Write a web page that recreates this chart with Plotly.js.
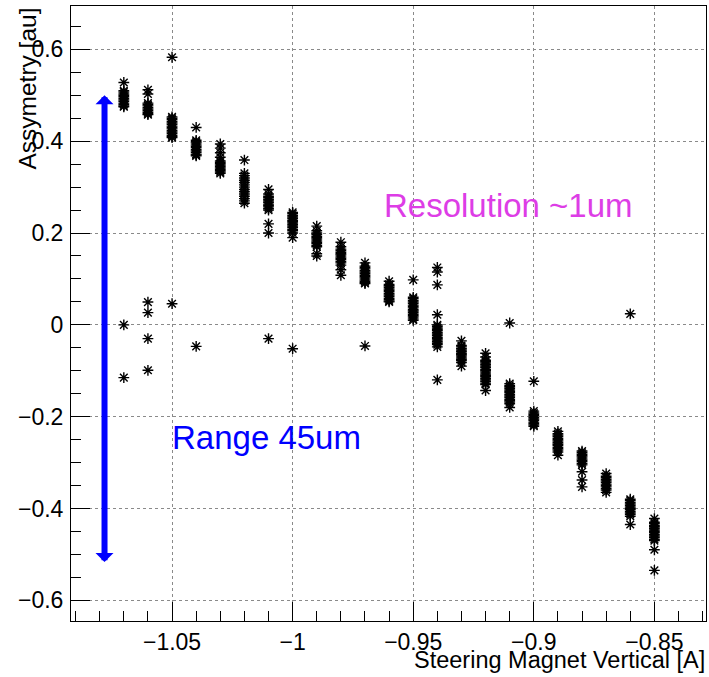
<!DOCTYPE html>
<html>
<head>
<meta charset="utf-8">
<script src="https://cdn.plot.ly/plotly-3.0.1.min.js"></script>
<style>html,body{margin:0;padding:0;background:#fff;}#chart{width:709px;height:677px;}</style>
</head>
<body>
<div id="chart"></div>
<script>
// Steering magnet current settings [A]
const currents = [-1.07, -1.06, -1.05, -1.04, -1.03, -1.02, -1.01, -1.00, -0.99, -0.98, -0.97, -0.96,
                  -0.95, -0.94, -0.93, -0.92, -0.91, -0.90, -0.89, -0.88, -0.87, -0.86, -0.85];

// Asymmetry readings [au] at each current
const asymmetry = [
  [0.528, 0.51, 0.507, 0.503, 0.5, 0.497, 0.493, 0.49, 0.487, 0.483, 0.48, 0.477, 0.475, 0.0, -0.115],
  [0.512, 0.503, 0.483, 0.48, 0.477, 0.473, 0.47, 0.467, 0.463, 0.46, 0.458, 0.0496, 0.0265, -0.03, -0.099],
  [0.583, 0.453, 0.45, 0.447, 0.443, 0.44, 0.437, 0.433, 0.43, 0.427, 0.423, 0.42, 0.417, 0.413, 0.41, 0.408, 0.046],
  [0.43, 0.402, 0.399, 0.396, 0.392, 0.389, 0.386, 0.382, 0.379, 0.376, 0.372, 0.37, 0.368, -0.047],
  [0.394, 0.385, 0.375, 0.365, 0.357, 0.354, 0.351, 0.348, 0.345, 0.342, 0.339, 0.336, 0.333, 0.33],
  [0.359, 0.33, 0.325, 0.32, 0.315, 0.31, 0.305, 0.3, 0.295, 0.29, 0.285, 0.28, 0.275, 0.27, 0.265],
  [0.295, 0.285, 0.28, 0.277, 0.273, 0.27, 0.267, 0.263, 0.26, 0.257, 0.253, 0.25, 0.22, 0.2, -0.03],
  [0.245, 0.242, 0.238, 0.235, 0.232, 0.228, 0.225, 0.222, 0.218, 0.215, 0.212, 0.208, 0.205, 0.2, 0.19, -0.052],
  [0.215, 0.205, 0.2, 0.197, 0.193, 0.19, 0.187, 0.183, 0.18, 0.177, 0.173, 0.17, 0.155, 0.15],
  [0.18, 0.17, 0.165, 0.162, 0.158, 0.155, 0.152, 0.148, 0.145, 0.142, 0.138, 0.135, 0.13, 0.12, 0.108],
  [0.135, 0.128, 0.125, 0.122, 0.118, 0.115, 0.112, 0.108, 0.105, 0.102, 0.098, 0.095, 0.092, 0.09, -0.046],
  [0.095, 0.088, 0.085, 0.082, 0.078, 0.075, 0.072, 0.068, 0.065, 0.062, 0.058, 0.055, 0.052, 0.05],
  [0.098, 0.06, 0.057, 0.053, 0.05, 0.047, 0.043, 0.04, 0.037, 0.033, 0.03, 0.027, 0.023, 0.02, 0.017, 0.013, 0.01],
  [0.125, 0.115, 0.087, 0.022, 0.0, -0.003, -0.007, -0.01, -0.013, -0.017, -0.02, -0.023, -0.027, -0.03, -0.033, -0.037, -0.04, -0.043, -0.048, -0.12],
  [-0.035, -0.045, -0.048, -0.052, -0.055, -0.058, -0.062, -0.065, -0.068, -0.072, -0.075, -0.078, -0.082, -0.09],
  [-0.062, -0.07, -0.077, -0.08, -0.083, -0.087, -0.09, -0.093, -0.097, -0.1, -0.103, -0.107, -0.11, -0.113, -0.117, -0.12, -0.123, -0.127, -0.13, -0.143],
  [0.004, -0.128, -0.132, -0.135, -0.138, -0.142, -0.145, -0.148, -0.152, -0.155, -0.158, -0.162, -0.165, -0.168, -0.172, -0.18],
  [-0.123, -0.188, -0.192, -0.195, -0.198, -0.202, -0.205, -0.208, -0.212, -0.215, -0.218, -0.221],
  [-0.232, -0.237, -0.24, -0.243, -0.247, -0.25, -0.253, -0.257, -0.26, -0.263, -0.267, -0.27, -0.273, -0.277, -0.284],
  [-0.275, -0.278, -0.282, -0.285, -0.288, -0.292, -0.295, -0.298, -0.302, -0.305, -0.32, -0.338, -0.353],
  [-0.324, -0.33, -0.333, -0.337, -0.34, -0.343, -0.347, -0.35, -0.353, -0.357, -0.36, -0.365],
  [0.024, -0.38, -0.383, -0.387, -0.39, -0.393, -0.397, -0.4, -0.403, -0.407, -0.41, -0.413, -0.417, -0.435],
  [-0.422, -0.43, -0.433, -0.437, -0.44, -0.443, -0.447, -0.45, -0.453, -0.457, -0.46, -0.463, -0.467, -0.47, -0.49, -0.535]
];

// Axis tick values
const xTicks = [-1.05, -1.00, -0.95, -0.90, -0.85];
const xTickText = ['\u22121.05', '\u22121', '\u22120.95', '\u22120.9', '\u22120.85'];
const yTicks = [-0.6, -0.4, -0.2, 0, 0.2, 0.4, 0.6];
const yTickText = ['\u22120.6', '\u22120.4', '\u22120.2', '0', '0.2', '0.4', '0.6'];

// Annotation texts
const xTitle = 'Steering Magnet Vertical [A]';
const yTitle = 'Assymetry [au]';
const resolutionText = 'Resolution ~1um';
const rangeText = 'Range 45um';
const arrowX = -1.078;
const arrowTop = 0.5;
const arrowBottom = -0.52;

const xs = [], ys = [];
currents.forEach((c, i) => asymmetry[i].forEach(v => { xs.push(c); ys.push(v); }));

const font = 'Liberation Sans, Arial, Helvetica, sans-serif';

const trace = {
  type: 'scatter', mode: 'markers', x: xs, y: ys,
  marker: { symbol: 'asterisk-open', size: 9, color: '#000', line: { color: '#000', width: 1.4 } },
  hoverinfo: 'skip'
};

const axisCommon = {
  showline: true, linecolor: '#000', linewidth: 1, mirror: true,
  ticks: 'inside', tickcolor: '#000', tickwidth: 1, ticklen: 19,
  showgrid: true, gridcolor: '#8a8a8a', gridwidth: 1, griddash: 'dot',
  zeroline: false,
  tickfont: { family: font, size: 23, color: '#000' }
};

const layout = {
  width: 709, height: 677,
  margin: { l: 71, r: 3, t: 5.5, b: 55.5, pad: 0 },
  paper_bgcolor: '#fff', plot_bgcolor: '#fff',
  showlegend: false,
  xaxis: Object.assign({}, axisCommon, {
    range: [-1.0919, -0.8286], tickmode: 'array', tickvals: xTicks, ticktext: xTickText,
    ticklabelstandoff: 0,
    minor: { ticks: 'inside', ticklen: 10, tickcolor: '#000', tickwidth: 1, dtick: 0.01, tick0: -1, showgrid: false }
  }),
  yaxis: Object.assign({}, axisCommon, {
    range: [-0.6452, 0.6946], tickmode: 'array', tickvals: yTicks, ticktext: yTickText,
    ticklabelstandoff: 2,
    minor: { ticks: 'inside', ticklen: 10, tickcolor: '#000', tickwidth: 1, dtick: 0.05, tick0: 0, showgrid: false }
  }),
  annotations: [
    { text: xTitle, xref: 'paper', yref: 'paper', x: 1.002, y: -0.088, xanchor: 'right', yanchor: 'bottom',
      showarrow: false, font: { family: font, size: 23.5, color: '#000' } },
    { text: yTitle, xref: 'paper', yref: 'paper', x: -0.07, y: 1, xanchor: 'center', yanchor: 'top',
      textangle: -90, showarrow: false, font: { family: font, size: 24.5, color: '#000' } },
    { text: resolutionText, xref: 'x', yref: 'y', x: -0.963, y: 0.26, xanchor: 'left', yanchor: 'middle',
      showarrow: false, font: { family: font, size: 33, color: '#dd3de6' } },
    { text: rangeText, xref: 'x', yref: 'y', x: -1.051, y: -0.2447, xanchor: 'left', yanchor: 'middle',
      showarrow: false, font: { family: font, size: 33, color: '#0000ff' } },
    { text: '', xref: 'x', yref: 'y', x: arrowX, y: arrowTop, axref: 'x', ayref: 'y', ax: arrowX, ay: arrowBottom,
      showarrow: true, arrowside: 'end+start', arrowhead: 1, startarrowhead: 1,
      arrowsize: 0.5, startarrowsize: 0.5, arrowwidth: 6, arrowcolor: '#0000ff', standoff: 0, startstandoff: 0 }
  ]
};

Plotly.newPlot('chart', [trace], layout, { displayModeBar: false, staticPlot: true });
</script>
</body>
</html>
